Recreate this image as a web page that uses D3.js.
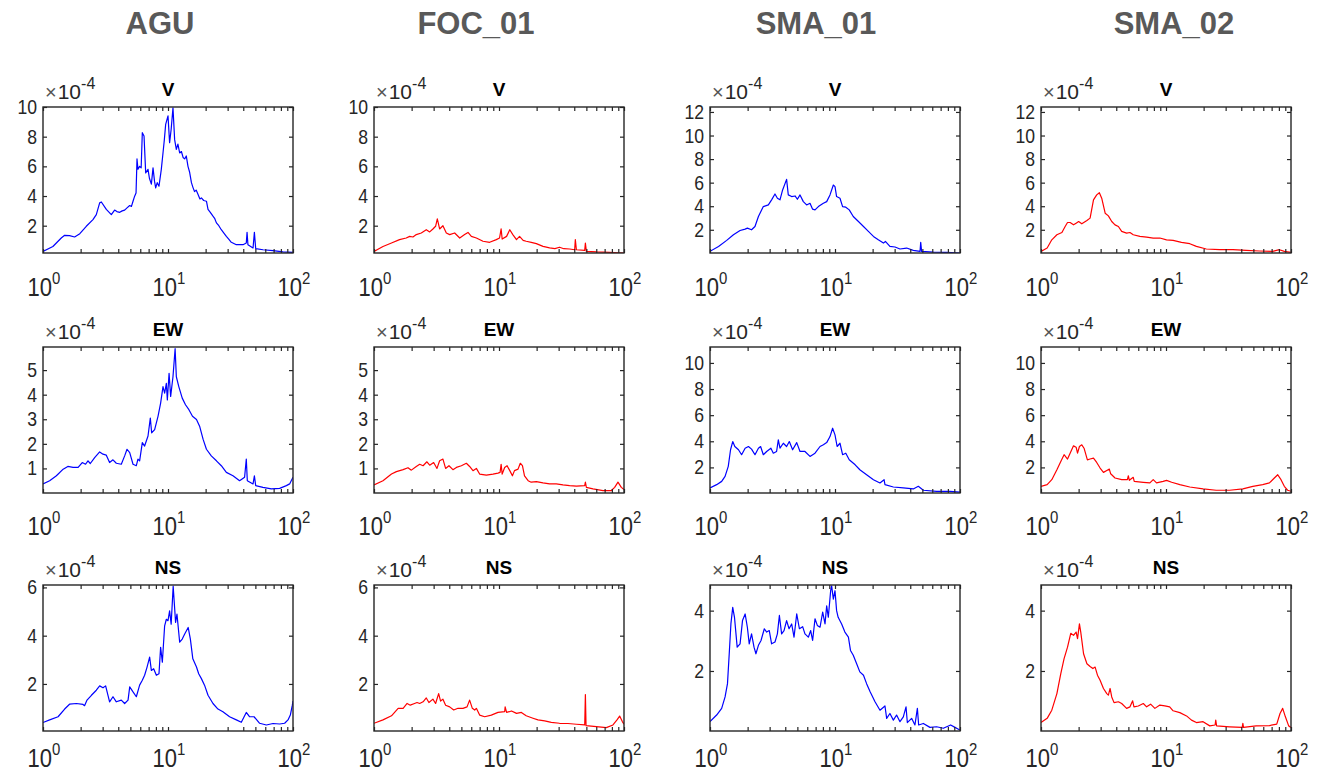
<!DOCTYPE html>
<html><head><meta charset="utf-8">
<script src="https://cdn.jsdelivr.net/npm/d3@7"></script>
<style>
body{margin:0;background:#fff}
svg{display:block}
text{font-family:"Liberation Sans",Arial,Helvetica,sans-serif}
</style>
</head><body>
<svg id="chart" width="1324" height="780"></svg>
<script>
// ---- categories ----
const stations = ["AGU", "FOC_01", "SMA_01", "SMA_02"];
const components = ["V", "EW", "NS"];
const stationColors = ["#0000ff", "#ff0000", "#0000ff", "#ff0000"];
const xTickValues = [1, 10, 100];
const xTickExponents = ["0", "1", "2"];
const xMinorTicks = [2,3,4,5,6,7,8,9,20,30,40,50,60,70,80,90];
const exponentLabel = "-4";

// y ticks (values in units of 1e-4)
const yTicksAgFocV = [2, 4, 6, 8, 10];
const yTicksSmaV = [2, 4, 6, 8, 10, 12];
const yTicksAgFocEW = [1, 2, 3, 4, 5];
const yTicksSmaEW = [2, 4, 6, 8, 10];
const yTicksAgFocNS = [2, 4, 6];
const yTicksSmaNS = [2, 4];

// y limits (units of 1e-4)
const yLimAgFocV = [0.16, 10];
const yLimSmaV = [0.03, 12.42];
const yLimAgFocEW = [0.0, 5.94];
const yLimSmaEW = [0.04, 11.22];
const yLimAgFocNS = [0.05, 6.1];
const yLimSmaNS = [0.01, 4.85];

// ---- series: [frequency Hz, amplitude x1e-4] ----
const agu_V = [[1,0.27],[1.2,0.6],[1.4,1.17],[1.49,1.35],[1.63,1.33],[1.79,1.24],[1.97,1.46],[2.22,1.96],[2.51,2.41],[2.67,2.75],[2.84,3.54],[2.93,3.6],[3.21,3.1],[3.52,2.75],[3.74,3.05],[3.9,2.95],[4.11,2.9],[4.3,3.0],[4.5,3.05],[4.7,3.2],[4.94,3.36],[5.1,3.3],[5.25,3.65],[5.41,3.99],[5.55,4.2],[5.65,6.5],[5.75,5.8],[5.93,6.0],[6.1,5.9],[6.23,8.27],[6.43,8.04],[6.63,5.56],[6.92,5.8],[7.1,5.2],[7.36,4.8],[7.59,5.9],[7.8,5.0],[7.97,4.55],[8.2,4.9],[8.47,4.66],[8.84,5.8],[9.12,6.9],[9.35,7.8],[9.58,8.83],[10.0,9.4],[10.3,7.6],[10.6,8.5],[10.96,9.95],[11.3,7.8],[11.66,7.14],[12.0,7.5],[12.4,6.9],[12.8,7.0],[13.2,6.6],[13.6,6.5],[14.0,6.7],[14.45,6.0],[14.9,5.6],[15.4,4.9],[15.8,4.6],[16.3,4.3],[16.8,4.4],[17.4,4.1],[18.0,3.8],[18.5,3.87],[19.3,3.7],[20.3,3.65],[20.9,3.1],[21.8,2.9],[22.9,2.64],[23.6,2.5],[24.4,2.19],[25.5,2.0],[26.7,1.73],[28.0,1.5],[29.3,1.28],[30.6,1.1],[32.1,0.88],[35.2,0.72],[39.8,0.72],[42.3,0.83],[42.9,1.55],[43.6,0.72],[47.9,0.5],[49.1,1.55],[50.3,0.45],[57.5,0.38],[69.2,0.32],[83.2,0.23],[100,0.2]];

const foc_V = [[1,0.27],[1.18,0.6],[1.38,0.83],[1.6,1.06],[1.81,1.17],[1.93,1.28],[2.05,1.24],[2.18,1.4],[2.39,1.51],[2.62,1.73],[2.79,1.58],[2.96,1.78],[3.11,1.96],[3.21,2.46],[3.35,1.78],[3.56,2.0],[3.79,1.51],[4.03,1.4],[4.42,1.51],[4.85,1.17],[5.31,1.4],[5.65,1.55],[6.01,1.28],[6.59,1.17],[7.45,0.95],[8.42,0.88],[9.52,1.06],[10.1,1.17],[10.4,1.78],[10.6,1.1],[11.5,1.28],[12.2,1.73],[12.9,1.4],[13.8,1.06],[14.6,1.28],[15.6,1.01],[16.5,0.95],[18.1,0.88],[19.9,0.79],[22.5,0.61],[25.4,0.5],[28.0,0.46],[30.5,0.55],[33.0,0.45],[36.7,0.43],[40.3,0.38],[40.8,1.06],[41.6,0.38],[48.5,0.34],[49.1,0.83],[50.0,0.27],[60.1,0.23],[76.8,0.2],[100,0.16]];

const sma1_V = [[1,0.17],[1.17,0.59],[1.36,1.1],[1.54,1.58],[1.74,1.94],[1.91,2.06],[1.99,2.14],[2.15,2.0],[2.29,2.28],[2.44,3.13],[2.67,3.97],[2.93,4.11],[3.11,4.54],[3.31,5.04],[3.46,4.68],[3.63,4.54],[3.81,5.38],[4.1,6.28],[4.23,4.96],[4.5,4.82],[4.79,4.87],[5.0,4.59],[5.25,4.96],[5.58,4.39],[5.93,4.11],[6.31,4.25],[6.62,3.75],[6.92,3.69],[7.36,3.97],[8.07,4.25],[8.58,4.39],[9.12,4.96],[9.7,5.8],[10.0,5.66],[10.3,4.82],[10.96,4.68],[11.5,3.97],[12.2,3.92],[13.0,3.69],[14.0,3.13],[15.4,2.7],[16.9,2.28],[18.5,1.86],[20.3,1.44],[22.2,1.15],[24.4,0.87],[25.3,1.01],[27.5,0.59],[30.2,0.54],[33.1,0.37],[37.4,0.45],[42.3,0.25],[47.9,0.17],[48.5,0.93],[49.3,0.17],[61.2,0.11],[78.2,0.08],[100,0.03]];

const sma2_V = [[1,0.17],[1.12,0.45],[1.22,1.15],[1.34,1.58],[1.47,1.77],[1.56,2.28],[1.63,2.62],[1.71,2.62],[1.82,2.42],[1.91,2.56],[2.0,2.7],[2.12,2.51],[2.33,2.79],[2.47,2.99],[2.63,4.54],[2.79,4.96],[2.93,5.15],[3.06,4.68],[3.26,3.41],[3.46,3.18],[3.68,2.7],[3.91,2.42],[4.16,2.28],[4.42,1.86],[4.84,1.72],[5.15,1.77],[5.47,1.58],[6.18,1.44],[7.0,1.38],[7.9,1.3],[8.93,1.3],[10.1,1.15],[11.4,1.1],[13.3,0.93],[15.5,0.82],[17.5,0.59],[21.0,0.37],[26.8,0.31],[34.3,0.31],[43.8,0.25],[55.9,0.2],[71.4,0.17],[80.7,0.31],[88.5,0.17],[100,0.08]];

const agu_EW = [[1,0.37],[1.13,0.5],[1.28,0.7],[1.45,0.97],[1.58,1.08],[1.74,1.04],[1.91,1.04],[2.06,1.24],[2.19,1.17],[2.29,1.31],[2.39,1.2],[2.59,1.44],[2.84,1.67],[3.02,1.58],[3.21,1.54],[3.41,1.24],[3.63,1.35],[3.86,1.21],[4.23,1.17],[4.5,1.51],[4.7,1.78],[4.94,1.64],[5.25,1.17],[5.58,1.11],[5.75,1.38],[5.93,1.31],[6.23,2.05],[6.5,1.91],[6.92,2.32],[7.22,3.05],[7.4,2.45],[7.82,2.58],[8.32,3.12],[8.73,3.66],[9.12,4.33],[9.4,4.06],[9.7,4.46],[9.88,3.79],[10.2,4.87],[10.5,3.93],[10.96,4.73],[11.4,5.87],[11.66,4.73],[12.2,4.33],[13.0,3.86],[13.8,3.59],[14.7,3.39],[15.7,3.12],[16.9,2.99],[17.9,2.72],[19.1,2.18],[20.3,1.78],[22.2,1.51],[24.4,1.31],[26.7,1.11],[29.3,0.84],[33.1,0.7],[37.4,0.5],[41.0,0.64],[42.3,1.38],[43.1,0.5],[47.9,0.37],[49.1,0.7],[50.3,0.3],[57.5,0.23],[67.1,0.17],[78.2,0.19],[88.5,0.3],[94.0,0.37],[100,0.64]];

const foc_EW = [[1,0.33],[1.18,0.5],[1.38,0.77],[1.51,0.87],[1.71,0.95],[1.87,1.03],[1.99,0.93],[2.18,1.08],[2.32,1.17],[2.47,1.11],[2.65,1.27],[2.79,1.13],[3.0,1.24],[3.19,1.0],[3.35,1.31],[3.56,1.38],[3.74,1.0],[3.98,1.11],[4.28,0.95],[4.56,1.04],[5.0,1.11],[5.48,1.21],[5.82,1.08],[6.19,0.91],[6.59,1.0],[7.0,0.77],[7.92,0.73],[8.95,0.77],[9.82,0.81],[10.2,0.84],[10.4,1.17],[10.6,0.77],[11.1,1.04],[11.6,1.11],[12.2,0.91],[12.8,0.7],[13.3,0.91],[14.2,0.97],[14.8,1.21],[15.4,1.11],[16.0,0.7],[17.1,0.5],[18.1,0.44],[19.9,0.46],[22.5,0.41],[25.4,0.37],[28.7,0.37],[32.5,0.33],[36.7,0.3],[41.6,0.28],[48.5,0.3],[49.1,0.44],[50.0,0.23],[56.5,0.17],[67.9,0.1],[79.2,0.1],[84.2,0.23],[89.5,0.44],[95.2,0.23],[100,0.14]];

const sma1_EW = [[1,0.43],[1.13,0.68],[1.24,0.93],[1.32,1.31],[1.4,2.08],[1.46,3.35],[1.52,3.98],[1.58,3.6],[1.69,3.35],[1.79,2.97],[1.91,3.47],[2.03,3.6],[2.15,3.4],[2.29,2.97],[2.44,3.47],[2.54,3.6],[2.67,2.97],[2.84,3.22],[3.07,3.47],[3.21,3.09],[3.41,3.22],[3.52,4.11],[3.63,3.47],[3.86,3.85],[4.1,3.6],[4.31,3.98],[4.58,3.35],[4.94,3.9],[5.25,3.22],[5.75,3.22],[6.31,2.84],[6.92,3.09],[7.59,3.6],[8.07,3.73],[8.58,3.9],[9.12,4.36],[9.57,5.0],[10.0,4.49],[10.4,3.6],[10.96,3.85],[11.5,2.97],[12.2,3.09],[13.0,2.58],[14.5,2.2],[15.8,1.82],[17.9,1.44],[20.3,1.06],[22.9,0.81],[24.7,1.06],[25.1,0.68],[29.3,0.5],[35.2,0.43],[42.3,0.35],[46.4,0.55],[50.9,0.25],[65.0,0.17],[83.2,0.17],[100,0.1]];

const sma2_EW = [[1,0.55],[1.12,0.68],[1.22,1.06],[1.34,1.82],[1.44,2.46],[1.53,2.97],[1.63,2.64],[1.71,3.09],[1.82,3.65],[1.91,3.55],[1.96,3.09],[2.03,3.6],[2.12,3.73],[2.21,3.47],[2.35,2.58],[2.47,2.64],[2.63,2.71],[2.79,2.38],[2.97,1.95],[3.16,1.62],[3.36,1.77],[3.52,1.87],[3.61,1.51],[3.91,1.19],[4.42,1.06],[4.91,1.06],[5.0,1.36],[5.09,1.01],[5.47,1.24],[5.57,0.93],[6.58,0.86],[7.43,0.81],[7.9,1.06],[8.4,0.81],[9.49,0.93],[10.1,1.01],[11.1,0.86],[12.9,0.68],[15.5,0.5],[19.8,0.35],[25.2,0.25],[32.3,0.25],[41.2,0.35],[49.5,0.55],[59.4,0.68],[67.2,0.81],[73.6,1.19],[78.3,1.44],[83.2,1.06],[88.4,0.55],[94.0,0.25],[100,0.17]];

const agu_NS = [[1,0.4],[1.13,0.51],[1.32,0.64],[1.49,0.96],[1.63,1.16],[1.85,1.19],[2.09,1.15],[2.15,1.1],[2.25,1.33],[2.44,1.53],[2.67,1.74],[2.84,1.92],[3.02,1.84],[3.17,1.92],[3.31,1.53],[3.41,1.26],[3.63,1.47],[3.86,1.26],[4.23,1.33],[4.5,1.19],[4.79,1.33],[4.94,1.88],[5.25,1.67],[5.58,1.47],[5.93,1.95],[6.23,2.15],[6.5,2.36],[6.8,2.7],[7.13,3.11],[7.36,2.56],[7.68,2.63],[8.07,2.36],[8.47,2.42],[8.73,3.52],[9.01,2.9],[9.4,4.41],[9.7,4.68],[10.0,4.62],[10.3,5.03],[10.6,4.48],[11.0,6.05],[11.5,4.55],[11.8,4.89],[12.4,3.73],[13.0,3.86],[13.6,4.07],[14.5,4.34],[15.1,3.86],[15.8,3.04],[16.9,2.7],[17.6,2.42],[18.5,2.22],[19.6,1.95],[20.9,1.53],[22.9,1.19],[25.1,0.96],[27.5,0.85],[31.1,0.64],[35.2,0.51],[38.6,0.41],[42.3,0.82],[45.0,0.64],[48.8,0.64],[54.1,0.37],[61.2,0.3],[69.2,0.36],[78.2,0.34],[85.7,0.37],[91.2,0.51],[95.2,0.71],[98.8,1.12],[100,1.29]];

const foc_NS = [[1,0.37],[1.18,0.51],[1.38,0.68],[1.56,0.99],[1.71,0.99],[1.84,1.19],[1.95,1.12],[2.11,1.19],[2.21,1.23],[2.32,1.19],[2.47,1.26],[2.62,1.42],[2.75,1.23],[2.96,1.37],[3.11,1.19],[3.29,1.6],[3.41,1.29],[3.56,1.37],[3.74,1.12],[4.03,1.05],[4.34,0.92],[4.7,0.99],[5.15,0.99],[5.55,1.05],[5.82,1.33],[6.12,0.99],[6.39,0.92],[6.59,0.99],[7.0,0.71],[7.68,0.64],[8.68,0.71],[9.82,0.82],[11.1,0.85],[11.2,1.05],[11.5,0.82],[12.6,0.88],[13.8,0.78],[15.1,0.82],[16.5,0.68],[18.7,0.58],[20.5,0.51],[23.2,0.47],[26.2,0.41],[30.5,0.37],[35.6,0.36],[41.6,0.33],[48.5,0.3],[49.1,1.56],[49.7,0.27],[60.1,0.23],[72.2,0.19],[81.6,0.3],[87.9,0.51],[92.3,0.67],[97.0,0.44],[100,0.33]];

const sma1_NS = [[1,0.32],[1.13,0.54],[1.24,0.76],[1.32,1.14],[1.38,1.58],[1.43,2.68],[1.47,3.56],[1.52,4.11],[1.57,3.78],[1.65,2.79],[1.74,2.9],[1.82,3.67],[1.91,3.89],[1.99,3.45],[2.06,2.9],[2.15,3.23],[2.25,2.79],[2.33,2.57],[2.44,2.85],[2.56,3.01],[2.72,3.4],[2.84,3.29],[2.98,3.34],[3.11,2.9],[3.31,2.96],[3.46,3.23],[3.59,3.84],[3.74,3.23],[3.91,3.34],[4.1,3.67],[4.29,3.4],[4.5,3.56],[4.7,3.12],[4.94,3.89],[5.19,3.4],[5.51,3.47],[5.75,3.23],[6.12,3.12],[6.39,3.34],[6.62,3.01],[6.92,3.73],[7.22,3.51],[7.59,3.45],[7.97,3.95],[8.32,3.56],[8.58,4.16],[8.84,3.78],[9.23,4.66],[9.4,4.82],[9.7,4.38],[10.0,4.66],[10.3,4.0],[10.6,3.78],[11.3,3.56],[12.0,3.29],[12.8,3.12],[13.3,2.68],[14.0,2.52],[14.9,2.24],[15.8,1.97],[16.9,1.86],[17.9,1.58],[19.1,1.31],[20.9,0.98],[22.9,0.7],[25.1,0.84],[25.9,0.43],[27.5,0.59],[29.3,0.37],[31.1,0.54],[33.1,0.32],[35.2,0.48],[37.0,0.81],[37.9,0.29],[41.0,0.43],[43.6,0.21],[45.6,0.76],[46.7,0.21],[50.9,0.26],[57.5,0.13],[65.0,0.15],[73.6,0.1],[84.2,0.21],[91.2,0.13],[100,0.04]];

const sma2_NS = [[1,0.29],[1.12,0.43],[1.22,0.7],[1.34,1.25],[1.44,1.91],[1.53,2.41],[1.63,2.79],[1.73,3.25],[1.82,3.18],[1.91,3.29],[1.96,3.07],[2.03,3.56],[2.08,3.29],[2.19,2.57],[2.33,2.24],[2.47,2.15],[2.6,2.08],[2.71,2.13],[2.83,1.86],[2.97,1.69],[3.16,1.42],[3.36,1.25],[3.46,1.2],[3.57,1.42],[3.68,1.14],[3.84,0.95],[4.16,0.98],[4.42,0.92],[4.84,0.76],[5.15,0.81],[5.41,1.01],[5.54,0.81],[6.0,0.84],[6.58,0.92],[7.0,0.81],[7.53,0.9],[8.15,0.76],[8.93,0.87],[9.79,0.84],[10.7,0.81],[11.4,0.68],[12.9,0.62],[14.6,0.51],[16.0,0.37],[17.5,0.29],[19.8,0.32],[22.4,0.18],[24.7,0.21],[25.0,0.37],[25.4,0.18],[32.3,0.15],[40.7,0.13],[41.2,0.26],[41.7,0.13],[52.6,0.18],[67.2,0.19],[76.9,0.24],[81.7,0.59],[85.8,0.76],[90.2,0.48],[95.8,0.18],[100,0.13]];

// ---- assemble ----
const seriesGrid = [
  [agu_V, foc_V, sma1_V, sma2_V],
  [agu_EW, foc_EW, sma1_EW, sma2_EW],
  [agu_NS, foc_NS, sma1_NS, sma2_NS]
];
const yTicksGrid = [
  [yTicksAgFocV, yTicksAgFocV, yTicksSmaV, yTicksSmaV],
  [yTicksAgFocEW, yTicksAgFocEW, yTicksSmaEW, yTicksSmaEW],
  [yTicksAgFocNS, yTicksAgFocNS, yTicksSmaNS, yTicksSmaNS]
];
const yLimGrid = [
  [yLimAgFocV, yLimAgFocV, yLimSmaV, yLimSmaV],
  [yLimAgFocEW, yLimAgFocEW, yLimSmaEW, yLimSmaEW],
  [yLimAgFocNS, yLimAgFocNS, yLimSmaNS, yLimSmaNS]
];

// ---- layout ----
const colLeft = [43, 374, 710, 1041];
const plotW = 250;
const rowTop = [107, 347, 585];
const plotH = 146;
const xLabelOffset = [43, 42, 36];
const titleX = [160, 476, 816, 1174];

const svg = d3.select("#chart");
const axisColor = "#262626";

// column titles
svg.selectAll("text.coltitle").data(stations).join("text")
  .attr("class", "coltitle")
  .attr("x", (d, i) => titleX[i]).attr("y", 34)
  .attr("text-anchor", "middle")
  .attr("font-size", 31).attr("font-weight", "bold")
  .attr("fill", "#595959")
  .text(d => d);

function condensedText(g, x, y, sx, anchor, size) {
  return g.append("text")
    .attr("transform", `translate(${x},${y}) scale(${sx},1)`)
    .attr("text-anchor", anchor)
    .attr("font-size", size)
    .attr("fill", axisColor);
}

components.forEach((comp, r) => {
  stations.forEach((st, c) => {
    const left = colLeft[c], top = rowTop[r];
    const right = left + plotW, bottom = top + plotH;
    const x = d3.scaleLog().domain([1, 100]).range([left, right]);
    const y = d3.scaleLinear().domain(yLimGrid[r][c]).range([bottom, top]);
    const g = svg.append("g");
    const clipId = `clip-${r}-${c}`;
    g.append("clipPath").attr("id", clipId)
      .append("rect").attr("x", left).attr("y", top).attr("width", plotW).attr("height", plotH);

    // data line
    const line = d3.line().x(d => x(d[0])).y(d => y(d[1]));
    g.append("path").datum(seriesGrid[r][c])
      .attr("clip-path", `url(#${clipId})`)
      .attr("d", line)
      .attr("fill", "none")
      .attr("stroke", stationColors[c])
      .attr("stroke-width", 1.2)
      .attr("stroke-linejoin", "round");

    // inward ticks on all four sides
    const allX = xTickValues.concat(xMinorTicks);
    const tickLen = 4;
    const axB = g.append("g").attr("transform", `translate(0,${bottom})`)
      .call(d3.axisBottom(x).tickValues(allX).tickSizeInner(-tickLen).tickSizeOuter(0).tickFormat(""));
    const axT = g.append("g").attr("transform", `translate(0,${top})`)
      .call(d3.axisTop(x).tickValues(allX).tickSizeInner(-tickLen).tickSizeOuter(0).tickFormat(""));
    const axL = g.append("g").attr("transform", `translate(${left},0)`)
      .call(d3.axisLeft(y).tickValues(yTicksGrid[r][c]).tickSizeInner(-tickLen).tickSizeOuter(0).tickFormat(""));
    const axR = g.append("g").attr("transform", `translate(${right},0)`)
      .call(d3.axisRight(y).tickValues(yTicksGrid[r][c]).tickSizeInner(-tickLen).tickSizeOuter(0).tickFormat(""));
    [axB, axT, axL, axR].forEach(a => {
      a.selectAll("path.domain").remove();
      a.selectAll("line").attr("stroke", axisColor).attr("stroke-width", 1.2);
    });

    // box
    g.append("rect").attr("x", left).attr("y", top).attr("width", plotW).attr("height", plotH)
      .attr("fill", "none").attr("stroke", axisColor).attr("stroke-width", 1.4);

    // y tick labels
    yTicksGrid[r][c].forEach(t => {
      condensedText(g, left - 6, y(t) + 7, 0.88, "end", 20).text(t);
    });

    // x tick labels 10^n
    xTickValues.forEach((v, i) => {
      const t = condensedText(g, x(v) + 1, bottom + xLabelOffset[r], 0.88, "middle", 25);
      t.append("tspan").text("10");
      t.append("tspan").attr("font-size", 17).attr("dy", -12).text(xTickExponents[i]);
    });

    // exponent label
    const e = condensedText(g, left + 2, top - 8, 1.0, "start", 21);
    e.append("tspan").attr("font-size", 20).attr("fill", "#555").text("\u00d7");
    e.append("tspan").attr("dx", 1).text("10");
    e.append("tspan").attr("font-size", 16).attr("dy", -10).text(exponentLabel);

    // subplot title
    g.append("text").attr("x", (left + right) / 2).attr("y", top - 11)
      .attr("text-anchor", "middle").attr("font-size", 19).attr("font-weight", "bold")
      .attr("fill", "#000").text(comp);
  });
});
</script>
</body></html>
